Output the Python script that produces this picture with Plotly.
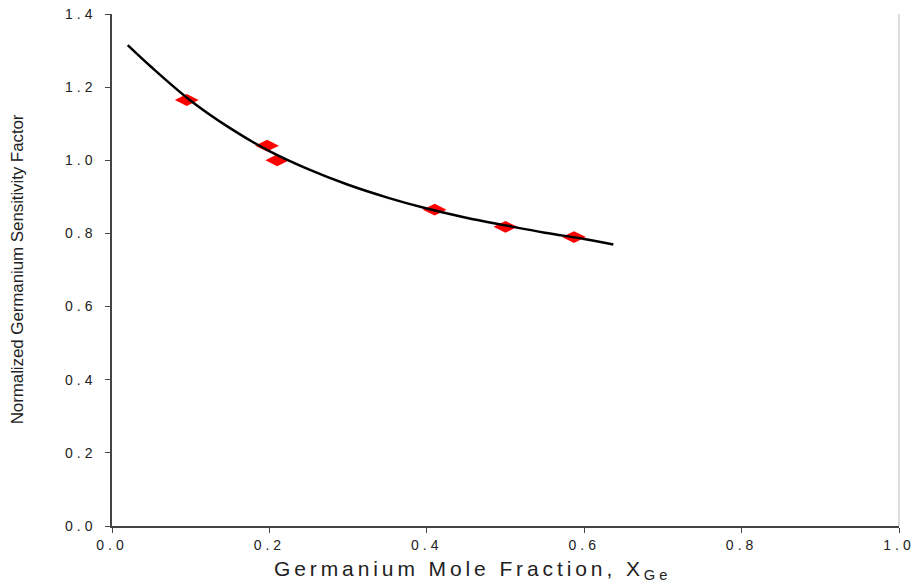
import plotly.graph_objects as go

# Measured data (red diamonds)
x_meas = [0.095, 0.197, 0.210, 0.410, 0.500, 0.587]
y_meas = [1.165, 1.040, 1.000, 0.865, 0.818, 0.790]

# Fitted curve
x_fit = [0.02, 0.05, 0.10, 0.15, 0.20, 0.25, 0.30, 0.35, 0.40, 0.45, 0.50, 0.55, 0.60, 0.637]
y_fit = [1.315, 1.255, 1.163, 1.088, 1.025, 0.975, 0.933, 0.898, 0.868, 0.843, 0.822, 0.802, 0.785, 0.770]

x_ticks = [0.0, 0.2, 0.4, 0.6, 0.8, 1.0]
y_ticks = [0.0, 0.2, 0.4, 0.6, 0.8, 1.0, 1.2, 1.4]

font_family = "Liberation Sans, Arial, sans-serif"

def spaced(s, px):
    return f'<span style="letter-spacing:{px}px">{s}</span>'

fig = go.Figure()
fig.add_trace(go.Scatter(
    x=x_meas, y=y_meas, mode="markers",
    marker=dict(symbol="diamond-wide", size=17, color="#ff0000", line=dict(width=0)),
    showlegend=False))
fig.add_trace(go.Scatter(
    x=x_fit, y=y_fit, mode="lines",
    line=dict(color="black", width=2.5, shape="spline"),
    showlegend=False))

fig.update_layout(
    width=916, height=587,
    margin=dict(l=112, r=17, t=14, b=61, autoexpand=False),
    paper_bgcolor="white", plot_bgcolor="white",
    font=dict(family=font_family, color="#222222"),
    xaxis=dict(range=[0, 1], tickvals=x_ticks, ticktext=[spaced(f"{v:.1f}", 4) for v in x_ticks],
               showgrid=False, zeroline=False, showline=True, linecolor="#444444", linewidth=1.5,
               mirror=False, ticks="outside", ticklen=5, tickcolor="#444444", automargin=False,
               tickfont=dict(size=14, color="#222222")),
    yaxis=dict(range=[0, 1.4], tickvals=y_ticks, ticktext=[spaced(f"{v:.1f}", 4) for v in y_ticks],
               showgrid=False, zeroline=False, showline=True, linecolor="#444444", linewidth=1.5,
               ticks="outside", ticklen=5, tickcolor="#444444", automargin=False, ticklabelstandoff=6,
               tickfont=dict(size=14, color="#222222")),
    shapes=[dict(type="line", xref="paper", yref="paper", x0=1, x1=1, y0=0, y1=1,
                 line=dict(color="#bbbbbb", width=1))],
    annotations=[
        dict(text=spaced("Germanium Mole Fraction, X<sub>Ge</sub>", 3.9), xref="paper", yref="paper",
             x=0.458, y=-0.057, xanchor="center", yanchor="top", showarrow=False,
             font=dict(size=21, color="#222222", family=font_family)),
        dict(text=spaced("Normalized Germanium Sensitivity Factor", -0.1), xref="paper", yref="paper",
             x=-0.119, y=0.502, xanchor="center", yanchor="middle", textangle=-90, showarrow=False,
             font=dict(size=17, color="#222222", family=font_family)),
    ],
)

fig.write_html("out.html")
